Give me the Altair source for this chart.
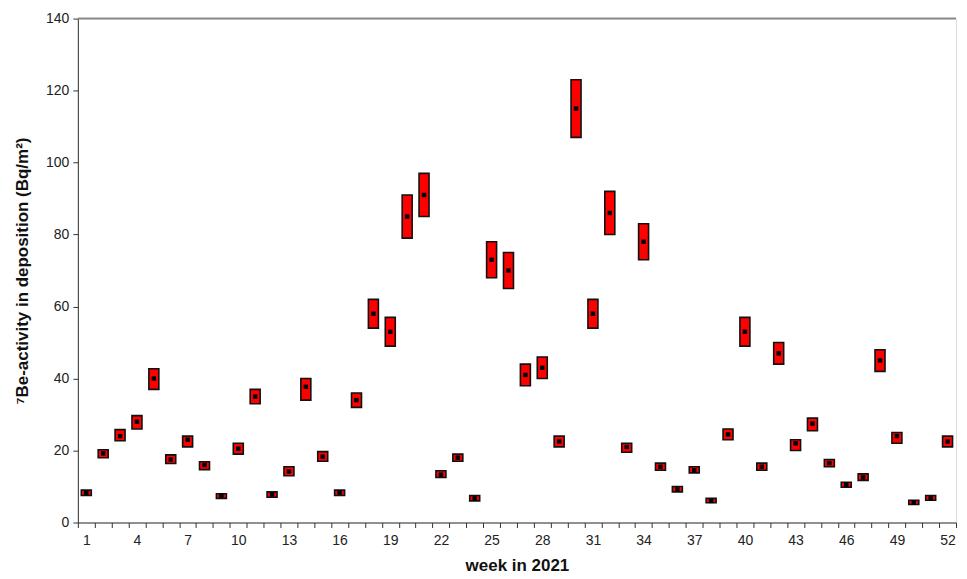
import altair as alt
import pandas as pd

weeks = list(range(1, 53))
values = [8.2, 19.2, 24, 28, 40, 17.5, 23, 16, 7.5, 20.5,
          35, 7.8, 14.2, 37.7, 18.3, 8.3, 34, 58, 53, 85,
          91, 13.3, 18, 6.7, 73, 70, 41, 43, 22.5, 115,
          58, 86, 21, 78, 15.5, 9.2, 14.5, 6, 24.5, 53,
          15.5, 47, 22, 27.5, 16.5, 10.5, 12.5, 45, 24, 5.5,
          6.7, 22.5]
lows = [7.5, 18, 22.7, 26, 37, 16.4, 21, 14.7, 6.7, 19,
        33, 7, 13, 34, 17, 7.5, 32, 54, 49, 79,
        85, 12.5, 17, 6, 68, 65, 38, 40, 21, 107,
        54, 80, 19.5, 73, 14.5, 8.5, 13.8, 5.5, 23, 49,
        14.5, 44, 20, 25.5, 15.5, 9.8, 11.7, 42, 22, 5,
        6.2, 21]
highs = [9, 20.2, 25.8, 29.7, 42.7, 18.8, 24, 16.9, 8, 22,
         37, 8.5, 15.5, 40, 19.7, 9, 36, 62, 57, 91,
         97, 14.4, 19, 7.5, 78, 75, 44, 46, 24, 123,
         62, 92, 22, 83, 16.5, 10, 15.5, 6.7, 26, 57,
         16.5, 50, 23, 29, 17.5, 11.2, 13.5, 48, 25, 6.2,
         7.5, 24]

df = pd.DataFrame({"week": weeks, "value": values, "lo": lows, "hi": highs})

font = "Liberation Sans"

x = alt.X(
    "week:O",
    scale=alt.Scale(paddingInner=0, paddingOuter=0),
    axis=alt.Axis(
        title="week in 2021",
        tickBand="extent",
        labelAngle=0,
        labelExpr="(datum.value - 1) % 3 == 0 ? datum.label : ''",
        labelFont=font, labelFontSize=14, labelColor="#222",
        titleFont=font, titleFontSize=17, titleFontWeight="bold", titleColor="#111",
        titlePadding=10,
        domainColor="#333", tickColor="#333", tickSize=5, labelPadding=6,
    ),
)

y_scale = alt.Scale(domain=[0, 140])

base = alt.Chart(df)

bars = base.mark_bar(size=10, color="#ff0000", stroke="#111", strokeWidth=1.6).encode(
    x=x,
    y=alt.Y(
        "lo:Q",
        scale=y_scale,
        axis=alt.Axis(
            title="⁷Be-activity in deposition (Bq/m²)",
            values=[0, 20, 40, 60, 80, 100, 120, 140],
            grid=False,
            labelFont=font, labelFontSize=14, labelColor="#222",
            titleFont=font, titleFontSize=17, titleFontWeight="bold", titleColor="#111",
            titlePadding=14,
            domainColor="#333", tickColor="#333", tickSize=5, labelPadding=4,
        ),
    ),
    y2="hi:Q",
)

centers = base.mark_square(size=20, color="#000", opacity=1).encode(
    x="week:O",
    y=alt.Y("value:Q", scale=y_scale),
)

top = alt.Chart(pd.DataFrame({"v": [140]})).mark_rule(color="#8a8a8a", strokeWidth=2).encode(
    y=alt.Y("v:Q", scale=y_scale)
)

chart = (
    alt.layer(top, bars, centers)
    .properties(width=880, height=505,
                padding={"left": 5, "top": 3, "right": 2, "bottom": 0})
    .configure_view(stroke=None)
    .configure(background="white")
)

chart.save("out.html", embed_options={"renderer": "svg", "actions": False})
